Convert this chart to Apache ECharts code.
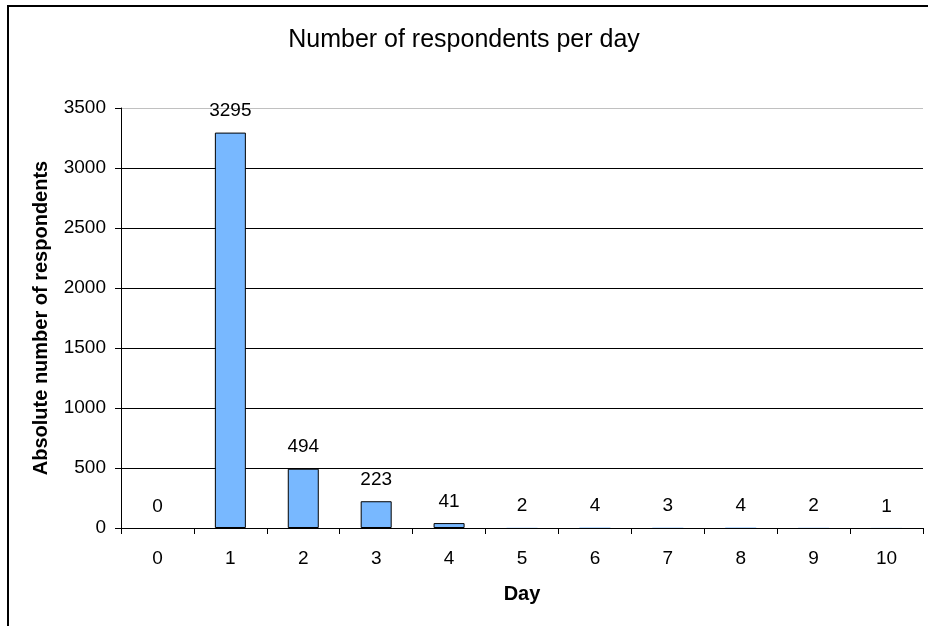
<!DOCTYPE html>
<html>
<head>
<meta charset="utf-8">
<style>
  html, body { margin: 0; padding: 0; background: #fff; }
  #chart { width: 928px; height: 626px; }
</style>
<script src="https://cdn.jsdelivr.net/npm/echarts@6/dist/echarts.min.js"></script>
</head>
<body>
<div id="chart"></div>
<script>
// Respondents per day after the survey went out
const days = ['0', '1', '2', '3', '4', '5', '6', '7', '8', '9', '10'];
const respondents = [0, 3295, 494, 223, 41, 2, 4, 3, 4, 2, 1];
const yTicks = { min: 0, max: 3500, interval: 500 };

const FONT = '"Liberation Sans", Arial, sans-serif';
const PLOT_HEIGHT = 420;

// Gridlines: black for every step, light grey at the top of the scale
const gridCount = yTicks.max / yTicks.interval + 1;
const gridColors = [];
for (let i = 0; i < gridCount; i++) {
  gridColors.push(i === gridCount - 1 ? '#c0c0c0' : '#000000');
}

// Bars thinner than a pixel get no outline, so they stay invisible
const barData = respondents.map(function (v) {
  const px = v / yTicks.max * PLOT_HEIGHT;
  return px < 1 ? { value: v, itemStyle: { borderWidth: 0 } } : v;
});

const chart = echarts.init(document.getElementById('chart'), null, { renderer: 'canvas' });

chart.setOption({
  animation: false,
  backgroundColor: '#ffffff',
  textStyle: { fontFamily: FONT, color: '#000' },
  title: {
    text: 'Number of respondents per day',
    left: 'center',
    top: 23,
    textStyle: { fontFamily: FONT, fontSize: 25, fontWeight: 'normal', color: '#000' }
  },
  graphic: [{
    type: 'rect',
    shape: { x: 8, y: 6, width: 1200, height: 1200 },
    style: { fill: null, stroke: '#000', lineWidth: 2 },
    silent: true
  }],
  grid: { left: 121, right: 5, top: 108, height: PLOT_HEIGHT, containLabel: false },
  xAxis: {
    type: 'category',
    data: days,
    name: 'Day',
    nameLocation: 'middle',
    nameGap: 56,
    nameTextStyle: { fontFamily: FONT, fontSize: 20, fontWeight: 'bold', color: '#000' },
    axisLine: { lineStyle: { color: '#000', width: 1 } },
    axisTick: { show: true, alignWithLabel: false, length: 6, lineStyle: { color: '#000' } },
    axisLabel: { margin: 21, fontFamily: FONT, fontSize: 19, color: '#000' },
    splitLine: { show: false }
  },
  yAxis: {
    type: 'value',
    min: yTicks.min,
    max: yTicks.max,
    interval: yTicks.interval,
    name: 'Absolute number of respondents',
    nameLocation: 'middle',
    nameGap: 70,
    nameTextStyle: { fontFamily: FONT, fontSize: 20, fontWeight: 'bold', color: '#000' },
    axisLine: { show: true, lineStyle: { color: '#000', width: 1 } },
    axisTick: { show: true, length: 6, lineStyle: { color: '#000' } },
    axisLabel: {
      margin: 15,
      fontFamily: FONT,
      fontSize: 19,
      color: '#000',
      formatter: function (v) { return String(v); }
    },
    splitLine: { show: true, lineStyle: { color: gridColors, width: 1 } }
  },
  series: [{
    type: 'bar',
    data: barData,
    barWidth: 31,
    itemStyle: { color: '#78b8ff', borderColor: '#000', borderWidth: 1 },
    label: {
      show: true,
      position: 'top',
      distance: 12,
      fontFamily: FONT,
      fontSize: 19,
      color: '#000'
    }
  }]
});
</script>
</body>
</html>
